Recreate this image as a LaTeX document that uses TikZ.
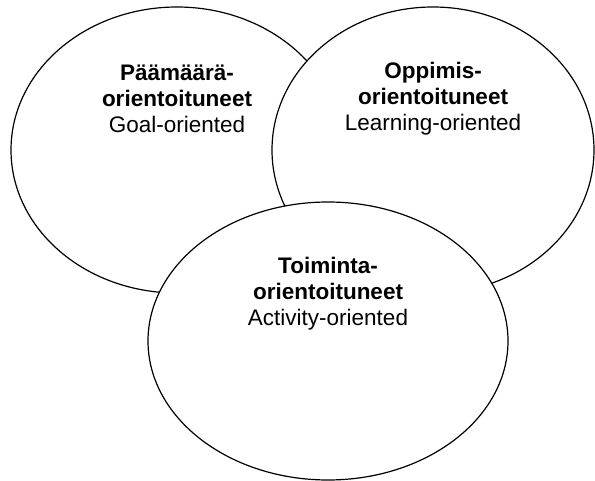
\documentclass[tikz,border=0pt]{standalone}
\usepackage{fontspec}
\setmainfont{Liberation Sans}
\usetikzlibrary{shapes,positioning}

\begin{document}
\begin{tikzpicture}[x=1pt, y=-1pt,
        oval/.style={ellipse, draw, fill=white, line width=1.2pt, inner sep=0pt},
        caption/.style={align=center, inner sep=0pt, font=\fontsize{22.5}{26}\selectfont}]
        
        \useasboundingbox (0,0) rectangle (595,481);
        
        \node[oval, minimum width=332pt, minimum height=286pt] (goal) at (177,150) {};
        \node[oval, minimum width=322pt, minimum height=286pt] (learning) at (433,150) {};
        \node[oval, minimum width=360pt, minimum height=278pt] (activity) at (328,341) {};
        
        \node[caption] (goaltext) at ([yshift=51pt]goal.center) {\textbf{Päämäärä-}\\\textbf{orientoituneet}\\Goal-oriented};
        \node[caption] (learningtext) at ([yshift=51pt]learning.center) {\textbf{Oppimis-}\\\textbf{orientoituneet}\\Learning-oriented};
        \node[caption] (activitytext) at ([yshift=47pt]activity.center) {\textbf{Toiminta-}\\\textbf{orientoituneet}\\Activity-oriented};
    \end{tikzpicture}
\end{document}
